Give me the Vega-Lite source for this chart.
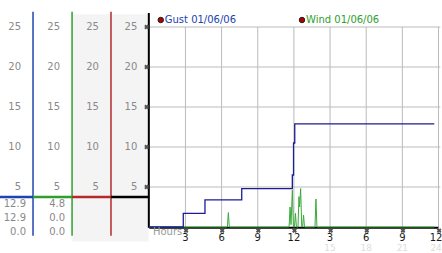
{
  "$schema": "https://vega.github.io/schema/vega-lite/v6.json",
  "width": 442,
  "height": 253,
  "padding": 0,
  "autosize": {"type": "none"},
  "background": "white",
  "config": {"view": {"stroke": null}, "text": {"font": "DejaVu Sans", "fontSize": 10}},
  "datasets": {
    "hgrid": [{"v": 5}, {"v": 10}, {"v": 15}, {"v": 20}, {"v": 25}],
    "vgrid": [{"h": 3}, {"h": 6}, {"h": 9}, {"h": 12}, {"h": 15}, {"h": 18}, {"h": 21}, {"h": 24}],
    "panelLines": [{"h": -9.65, "panel": "gust"}, {"h": -6.41, "panel": "wind"}, {"h": -3.18, "panel": "extra"}],
    "panelH": [
      {"h": -12.6, "h2": -9.65, "panel": "gust"},
      {"h": -9.65, "h2": -6.41, "panel": "wind"},
      {"h": -6.41, "h2": -3.18, "panel": "extra"},
      {"h": -3.18, "h2": 0, "panel": "plot"}
    ],
    "panelLabels": [
      {"h": -9.65, "v": 25, "label": "25"}, {"h": -9.65, "v": 20, "label": "20"}, {"h": -9.65, "v": 15, "label": "15"}, {"h": -9.65, "v": 10, "label": "10"}, {"h": -9.65, "v": 5, "label": "5"},
      {"h": -6.41, "v": 25, "label": "25"}, {"h": -6.41, "v": 20, "label": "20"}, {"h": -6.41, "v": 15, "label": "15"}, {"h": -6.41, "v": 10, "label": "10"}, {"h": -6.41, "v": 5, "label": "5"},
      {"h": -3.18, "v": 25, "label": "25"}, {"h": -3.18, "v": 20, "label": "20"}, {"h": -3.18, "v": 15, "label": "15"}, {"h": -3.18, "v": 10, "label": "10"}, {"h": -3.18, "v": 5, "label": "5"},
      {"h": 0, "v": 25, "label": "25"}, {"h": 0, "v": 20, "label": "20"}, {"h": 0, "v": 15, "label": "15"}, {"h": 0, "v": 10, "label": "10"}, {"h": 0, "v": 5, "label": "5"}
    ],
    "stats": [
      {"h": -9.65, "v": 2.875, "label": "12.9"}, {"h": -9.65, "v": 1.125, "label": "12.9"}, {"h": -9.65, "v": -0.625, "label": "0.0"},
      {"h": -6.41, "v": 2.875, "label": "4.8"}, {"h": -6.41, "v": 1.125, "label": "0.0"}, {"h": -6.41, "v": -0.625, "label": "0.0"}
    ],
    "gust": [
      {"h": 0, "v": 0}, {"h": 2.82, "v": 1.7}, {"h": 4.62, "v": 3.4}, {"h": 7.67, "v": 4.8},
      {"h": 11.87, "v": 6.5}, {"h": 11.97, "v": 10.5}, {"h": 12.07, "v": 12.9}, {"h": 23.65, "v": 12.9}
    ],
    "wind": [
      {"h": 0, "v": 0}, {"h": 6.48, "v": 0}, {"h": 6.56, "v": 1.8}, {"h": 6.64, "v": 0},
      {"h": 11.6, "v": 0}, {"h": 11.68, "v": 2.5}, {"h": 11.76, "v": 0.3}, {"h": 11.87, "v": 4.6}, {"h": 11.96, "v": 0},
      {"h": 12.05, "v": 0}, {"h": 12.13, "v": 1.7}, {"h": 12.21, "v": 0}, {"h": 12.34, "v": 0}, {"h": 12.42, "v": 3.8},
      {"h": 12.47, "v": 2.5}, {"h": 12.56, "v": 4.8}, {"h": 12.65, "v": 0}, {"h": 12.72, "v": 0}, {"h": 12.8, "v": 1.5},
      {"h": 12.88, "v": 0}, {"h": 13.75, "v": 0}, {"h": 13.83, "v": 3.5}, {"h": 13.91, "v": 0}, {"h": 23.65, "v": 0}
    ],
    "markers": [
      {"h": -0.22, "v": 25}, {"h": -0.22, "v": 20}, {"h": -0.22, "v": 15}, {"h": -0.22, "v": 10}, {"h": -0.22, "v": 5},
      {"h": 3.05, "v": -0.45}, {"h": 6.05, "v": -0.45}, {"h": 9.05, "v": -0.45}, {"h": 12.05, "v": -0.45},
      {"h": 15.05, "v": -0.45}, {"h": 18.05, "v": -0.45}, {"h": 21.05, "v": -0.45}, {"h": 24.05, "v": -0.45}
    ],
    "xticks": [
      {"h": 3, "label": "3"}, {"h": 6, "label": "6"}, {"h": 9, "label": "9"}, {"h": 12, "label": "12"},
      {"h": 15, "label": "3"}, {"h": 18, "label": "6"}, {"h": 21, "label": "9"}, {"h": 23.8, "label": "12"}
    ],
    "faint": [{"h": 15, "label": "15"}, {"h": 18, "label": "18"}, {"h": 21, "label": "21"}, {"h": 23.8, "label": "24"}],
    "legend": [
      {"h": 0.95, "v": 25.875, "panel": "gust", "label": "Gust 01/06/06"},
      {"h": 12.67, "v": 25.875, "panel": "wind", "label": "Wind 01/06/06"}
    ]
  },
  "layer": [
    {
      "data": {"values": [{"h": -6.38, "h2": -0.06, "v": 26.6, "v2": -1.8}]},
      "mark": {"type": "rect", "color": "#f4f4f4"},
      "encoding": {
        "x": {"field": "h", "type": "quantitative", "scale": {"domain": [-12.39, 24.29], "nice": false, "zero": false}, "axis": null},
        "x2": {"field": "h2"},
        "y": {"field": "v", "type": "quantitative", "scale": {"domain": [-3.25, 28.375], "nice": false, "zero": false}, "axis": null},
        "y2": {"field": "v2"}
      }
    },
    {
      "data": {"name": "hgrid"},
      "mark": {"type": "rule", "color": "#bbbbbb", "strokeWidth": 1},
      "encoding": {
        "x": {"datum": 0, "type": "quantitative"},
        "x2": {"datum": 24.15},
        "y": {"field": "v", "type": "quantitative"}
      }
    },
    {
      "data": {"name": "vgrid"},
      "mark": {"type": "rule", "color": "#bbbbbb", "strokeWidth": 1},
      "encoding": {
        "x": {"field": "h", "type": "quantitative"},
        "y": {"datum": 0, "type": "quantitative"},
        "y2": {"datum": 25}
      }
    },
    {
      "data": {"name": "panelLines"},
      "mark": {"type": "rule", "strokeWidth": 1.5},
      "encoding": {
        "x": {"field": "h", "type": "quantitative"},
        "y": {"datum": 26.9, "type": "quantitative"},
        "y2": {"datum": -1.1},
        "color": {"field": "panel", "type": "nominal", "scale": {"domain": ["gust", "wind", "extra", "plot"], "range": ["#2143b0", "#2e9e2e", "#b52a2a", "#000000"]}, "legend": null}
      }
    },
    {
      "data": {"name": "panelH"},
      "mark": {"type": "rule", "strokeWidth": 2.5},
      "encoding": {
        "x": {"field": "h", "type": "quantitative"},
        "x2": {"field": "h2"},
        "y": {"datum": 3.75, "type": "quantitative"},
        "color": {"field": "panel", "type": "nominal", "legend": null}
      }
    },
    {
      "data": {"values": [{}]},
      "mark": {"type": "rule", "color": "#000000", "strokeWidth": 2},
      "encoding": {
        "x": {"datum": -0.04, "type": "quantitative"},
        "y": {"datum": -0.1, "type": "quantitative"},
        "y2": {"datum": 26.75}
      }
    },
    {
      "data": {"values": [{}]},
      "mark": {"type": "rule", "color": "#000000", "strokeWidth": 2},
      "encoding": {
        "x": {"datum": 0, "type": "quantitative"},
        "x2": {"datum": 24.0},
        "y": {"datum": -0.08, "type": "quantitative"}
      }
    },
    {
      "data": {"name": "wind"},
      "mark": {"type": "line", "color": "#3aaa3a", "strokeWidth": 1},
      "encoding": {
        "x": {"field": "h", "type": "quantitative"},
        "y": {"field": "v", "type": "quantitative"}
      }
    },
    {
      "data": {"name": "gust"},
      "mark": {"type": "line", "color": "#1c1c94", "strokeWidth": 1.3, "interpolate": "step-after"},
      "encoding": {
        "x": {"field": "h", "type": "quantitative"},
        "y": {"field": "v", "type": "quantitative"}
      }
    },
    {
      "data": {"name": "markers"},
      "mark": {"type": "point", "shape": "cross", "angle": 45, "size": 24, "filled": true, "color": "#555555", "strokeWidth": 0, "opacity": 1},
      "encoding": {
        "x": {"field": "h", "type": "quantitative"},
        "y": {"field": "v", "type": "quantitative"}
      }
    },
    {
      "data": {"name": "panelLabels"},
      "mark": {"type": "text", "align": "right", "baseline": "middle", "dx": -12, "color": "#8a8a8a"},
      "encoding": {
        "x": {"field": "h", "type": "quantitative"},
        "y": {"field": "v", "type": "quantitative"},
        "text": {"field": "label"}
      }
    },
    {
      "data": {"name": "stats"},
      "mark": {"type": "text", "align": "right", "baseline": "middle", "dx": -7, "color": "#8a8a8a"},
      "encoding": {
        "x": {"field": "h", "type": "quantitative"},
        "y": {"field": "v", "type": "quantitative"},
        "text": {"field": "label"}
      }
    },
    {
      "data": {"name": "faint"},
      "mark": {"type": "text", "align": "center", "baseline": "middle", "color": "#dddddd", "fontSize": 9},
      "encoding": {
        "x": {"field": "h", "type": "quantitative"},
        "y": {"datum": -2.6, "type": "quantitative"},
        "text": {"field": "label"}
      }
    },
    {
      "data": {"name": "xticks"},
      "mark": {"type": "text", "align": "center", "baseline": "middle", "color": "#1a1a1a"},
      "encoding": {
        "x": {"field": "h", "type": "quantitative"},
        "y": {"datum": -1.4, "type": "quantitative"},
        "text": {"field": "label"}
      }
    },
    {
      "data": {"values": [{"h": 0.3, "label": "Hours"}]},
      "mark": {"type": "text", "align": "left", "baseline": "middle", "color": "#999999"},
      "encoding": {
        "x": {"field": "h", "type": "quantitative"},
        "y": {"datum": -0.62, "type": "quantitative"},
        "text": {"field": "label"}
      }
    },
    {
      "data": {"name": "legend"},
      "mark": {"type": "point", "shape": "circle", "size": 30, "filled": true, "fill": "#b00000", "stroke": "#222222", "strokeWidth": 1, "opacity": 1},
      "encoding": {
        "x": {"field": "h", "type": "quantitative"},
        "y": {"field": "v", "type": "quantitative"}
      }
    },
    {
      "data": {"name": "legend"},
      "mark": {"type": "text", "align": "left", "baseline": "middle", "dx": 4},
      "encoding": {
        "x": {"field": "h", "type": "quantitative"},
        "y": {"field": "v", "type": "quantitative"},
        "text": {"field": "label"},
        "color": {"field": "panel", "type": "nominal", "legend": null}
      }
    }
  ]
}
